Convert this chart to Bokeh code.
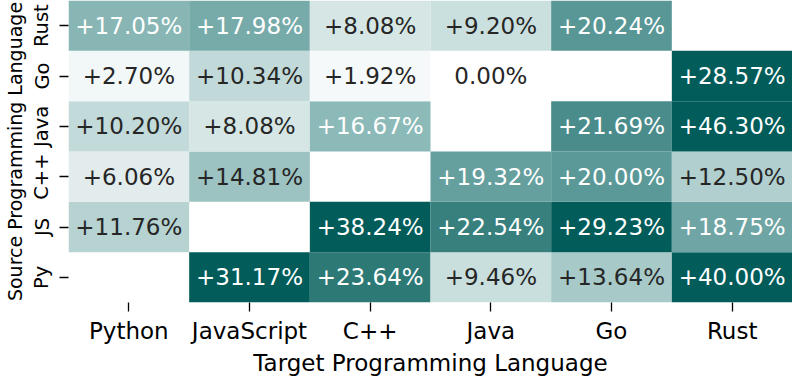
import numpy as np
from bokeh.plotting import figure
from bokeh.models import ColumnDataSource, LinearColorMapper, FactorRange
from bokeh.core.properties import value
from bokeh.embed import file_html
from bokeh.resources import INLINE

# ---- data ----
targets = ["Python", "JavaScript", "C++", "Java", "Go", "Rust"]
sources = ["Py", "JS", "C++", "Java", "Go", "Rust"]  # bottom -> top
# rows: source language, columns: target language (None = diagonal)
row_py = [None, 31.17, 23.64, 9.46, 13.64, 40.00]
row_js = [11.76, None, 38.24, 22.54, 29.23, 18.75]
row_cpp = [6.06, 14.81, None, 19.32, 20.00, 12.50]
row_java = [10.20, 8.08, 16.67, None, 21.69, 46.30]
row_go = [2.70, 10.34, 1.92, 0.00, None, 28.57]
row_rust = [17.05, 17.98, 8.08, 9.20, 20.24, None]
rows = {"Py": row_py, "JS": row_js, "C++": row_cpp, "Java": row_java,
        "Go": row_go, "Rust": row_rust}

# ---- colour palette (white -> dark teal) ----
stops = [(0.00, "#ffffff"), (0.10, "#f1f6f6"), (0.22, "#e1ecec"),
         (0.29, "#d4e6e5"), (0.36, "#c3dbda"), (0.42, "#b6d3d2"),
         (0.49, "#a6c9c8"), (0.53, "#9cc2c1"), (0.60, "#8bb9b8"),
         (0.64, "#78acab"), (0.67, "#6fa5a4"), (0.71, "#5c9a99"),
         (0.77, "#4f8f8e"), (0.80, "#3a827f"), (0.84, "#2f7a77"),
         (1.00, "#015c5a")]
def hex2rgb(h):
    return [int(h[i:i + 2], 16) for i in (1, 3, 5)]
pos = np.array([s[0] for s in stops])
cols = np.array([hex2rgb(s[1]) for s in stops], dtype=float)
palette = []
for t in np.linspace(0, 1, 256):
    rgb = [int(round(np.interp(t, pos, cols[:, k]))) for k in range(3)]
    palette.append("#%02x%02x%02x" % tuple(rgb))
mapper = LinearColorMapper(palette=palette, low=0, high=28)

xs, ys, vals, labels, tcolors = [], [], [], [], []
for s in sources:
    for t, v in zip(targets, rows[s]):
        if v is None:
            continue
        xs.append(t)
        ys.append(s)
        vals.append(v)
        labels.append("%.2f%%" % v if v == 0 else "+%.2f%%" % v)
        tcolors.append("#ffffff" if v >= 16 else "#262626")
src = ColumnDataSource(dict(x=xs, y=ys, v=vals, label=labels, tc=tcolors))

p = figure(width=792, height=382, x_range=FactorRange(*targets),
           y_range=FactorRange(*sources), output_backend="svg",
           toolbar_location=None, min_border_left=68, min_border_right=0,
           min_border_top=0, min_border_bottom=80)
p.outline_line_color = None
p.xgrid.grid_line_color = None
p.ygrid.grid_line_color = None

p.rect(x="x", y="y", width=1, height=1, source=src,
       fill_color={"field": "v", "transform": mapper}, line_color=None)
p.text(x="x", y="y", text="label", source=src, text_color="tc",
       text_align="center", text_baseline="middle",
       text_font=value("DejaVu Sans"), text_font_size="23px")

for ax in (p.xaxis[0], p.yaxis[0]):
    ax.axis_line_color = None
    ax.major_tick_in = 0
    ax.major_tick_out = 9
    ax.major_tick_line_width = 1.3
    ax.major_tick_line_color = "black"
    ax.major_label_text_font = "DejaVu Sans"
    ax.major_label_text_color = "black"
    ax.axis_label_text_font = "DejaVu Sans"
    ax.axis_label_text_font_style = "normal"
    ax.axis_label_text_color = "black"

p.xaxis.axis_label = "Target Programming Language"
p.xaxis.major_label_text_font_size = "23px"
p.xaxis.axis_label_text_font_size = "23px"
p.xaxis.major_label_standoff = 6
p.xaxis.axis_label_standoff = 3

p.yaxis.axis_label = "Source Programming Language"
p.yaxis.major_label_text_font_size = "19.5px"
p.yaxis.axis_label_text_font_size = "19px"
p.yaxis.major_label_orientation = "vertical"
p.yaxis.major_label_standoff = 6
p.yaxis.axis_label_standoff = 2

open("out.html", "w").write(file_html(p, INLINE))
